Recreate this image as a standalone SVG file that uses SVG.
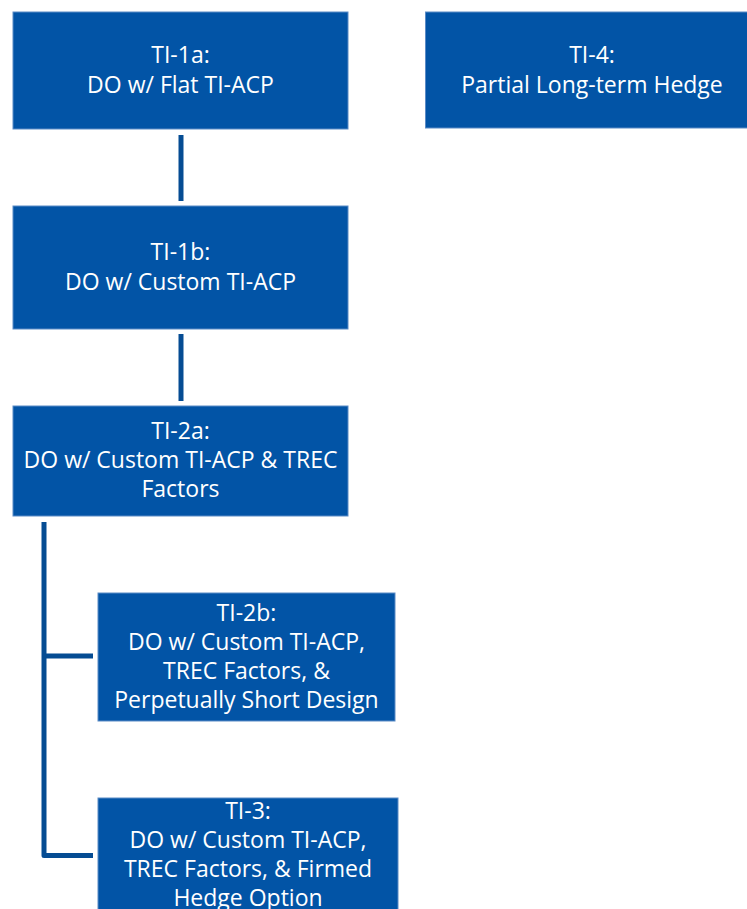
<svg xmlns="http://www.w3.org/2000/svg" width="747" height="909" viewBox="0 0 747 909">
<style>
.box{fill:#0254A6;stroke:#5B8BC6;stroke-width:1}
.t{font-family:"Open Sans","Liberation Sans",sans-serif;font-size:23px;fill:#FFFFFF;text-anchor:middle}
.c{fill:none;stroke:#054C93;stroke-width:5}
</style>
<rect width="747" height="909" fill="#FFFFFF"/>
<g id="connectors">
<line class="c" x1="181" y1="135" x2="181" y2="201"/>
<line class="c" x1="181" y1="334" x2="181" y2="401"/>
<path class="c" d="M44 522 V855.5 H93" stroke-linejoin="round"/>
<line class="c" x1="44" y1="656" x2="93" y2="656"/>
</g>
<g id="TI-1a">
<rect class="box" x="13" y="12" width="335" height="117"/>
<text class="t" x="180.5" y="63">TI-1a:</text>
<text class="t" x="180.5" y="93">DO w/ Flat TI-ACP</text>
</g>
<g id="TI-4">
<rect class="box" x="425.5" y="12" width="334" height="116"/>
<text class="t" x="592" y="63">TI-4:</text>
<text class="t" x="592" y="93">Partial Long-term Hedge</text>
</g>
<g id="TI-1b">
<rect class="box" x="13" y="206" width="335" height="123"/>
<text class="t" x="180.5" y="260">TI-1b:</text>
<text class="t" x="180.5" y="290">DO w/ Custom TI-ACP</text>
</g>
<g id="TI-2a">
<rect class="box" x="13" y="406" width="335" height="110"/>
<text class="t" x="180.5" y="439">TI-2a:</text>
<text class="t" x="180.5" y="468">DO w/ Custom TI-ACP &amp; TREC</text>
<text class="t" x="180.5" y="497">Factors</text>
</g>
<g id="TI-2b">
<rect class="box" x="98" y="593" width="297" height="128"/>
<text class="t" x="246.5" y="621">TI-2b:</text>
<text class="t" x="246.5" y="650">DO w/ Custom TI-ACP,</text>
<text class="t" x="246.5" y="679">TREC Factors, &amp;</text>
<text class="t" x="246.5" y="708">Perpetually Short Design</text>
</g>
<g id="TI-3">
<rect class="box" x="98" y="798" width="300" height="125"/>
<text class="t" x="248" y="819">TI-3:</text>
<text class="t" x="248" y="848">DO w/ Custom TI-ACP,</text>
<text class="t" x="248" y="877">TREC Factors, &amp; Firmed</text>
<text class="t" x="248" y="906">Hedge Option</text>
</g>
</svg>
